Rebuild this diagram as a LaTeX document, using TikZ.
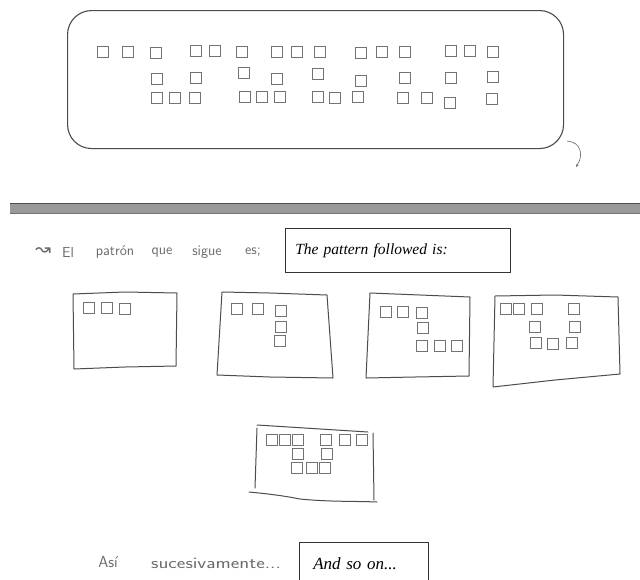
\documentclass[tikz,border=0pt]{standalone}
\usepackage{fontspec}
\usetikzlibrary{arrows.meta}
\setmainfont{Liberation Serif}
\newfontfamily\symfont{DejaVu Sans}
\begin{document}
\begin{tikzpicture}[x=1pt,y=-1pt,
  sq/.style={draw=black!55, line width=0.75pt},
  frame/.style={draw=black!70, line width=1pt, line cap=round, line join=round},
  hand/.style={text=black!58, inner sep=0pt, font=\sffamily\fontsize{14.5}{17}\selectfont},
  lbl/.style={draw=black!80, line width=0.6pt, align=left, inner ysep=0pt,
     font=\itshape\fontsize{15.5}{18}\selectfont}]
\clip (0,0) rectangle (640,579);
\fill[white] (0,0) rectangle (640,579);

% top rounded frame
\node[draw=black!70, line width=1.1pt, rounded corners=24pt, minimum width=496pt,
  minimum height=138pt, inner sep=0pt, anchor=north west] (topbox) at (67,10) {};
\foreach \x/\y in {103/52,128/52,156/53, 196/51,215/51,242/52, 277/52,297/52,320/52,
  361/53,382/52,405/52, 451/51,470/51,493/52,
  157/79,196/78,244/73,277/79,318/74,361/81,405/78,451/78,493/77,
  157/98,175/98,195/98, 245/97,262/97,280/97, 318/97,335/98,358/97,
  403/98,427/98,450/103, 492/99}
  \draw[sq] (\x-5.5,\y-5.5) rectangle (\x+5.5,\y+5.5);
\coordinate (a1) at (567,141);
\coordinate (a2) at (576,167);
\draw[black!60, line width=0.6pt, -{Stealth[length=3pt]}] (a1) .. controls (581,142) and (584,155) .. (a2);

% gray bar
\fill[black!40] (10,203) rectangle (640,213);
\draw[black!70, line width=0.8pt] (10,203) -- (640,203);
\draw[black!55, line width=0.6pt] (10,213) -- (640,213);

% heading
\node[hand, font=\symfont\fontsize{19}{21}\selectfont] (w0) at (43,252) {↝};
\node[hand] (w1) at (68,252) {El};
\node[hand] (w2) at (115,252) {patrón};
\node[hand] (w3) at (162,253) {que};
\node[hand] (w4) at (207,252) {sigue};
\node[hand] (w5) at (253,252) {es;};
\node[lbl, text width=205pt, inner xsep=10pt, minimum height=44pt, anchor=north west] (l1) at (285,228) {The pattern followed is:};

% step A
\draw[frame] (73,294) -- (125,292) -- (177,293) -- (176,366) -- (125,367) -- (74,369) -- cycle;
\foreach \x/\y in {89/308,107/308,125/309}
  \draw[sq] (\x-5.5,\y-5.5) rectangle (\x+5.5,\y+5.5);
% step B
\draw[frame] (222,292) -- (270,293) -- (327,295) -- (333,378) -- (270,377) -- (217,375) -- cycle;
\foreach \x/\y in {237/309,258/309,281/311,281/327,280/341}
  \draw[sq] (\x-5.5,\y-5.5) rectangle (\x+5.5,\y+5.5);
% step C
\draw[frame] (370,293) -- (420,295) -- (470,297) -- (469,376) -- (415,377) -- (366,378) -- cycle;
\foreach \x/\y in {386/312,403/312,422/313,423/328,422/346,440/346,457/346}
  \draw[sq] (\x-5.5,\y-5.5) rectangle (\x+5.5,\y+5.5);
% step D
\draw[frame] (495,296) -- (555,295) -- (618,297) -- (620,374) -- (555,380) -- (493,387) -- cycle;
\foreach \x/\y in {506/309,519/309,537/309,574/309,535/327,575/327,536/343,553/344,572/343}
  \draw[sq] (\x-5.5,\y-5.5) rectangle (\x+5.5,\y+5.5);
% step E
\draw[frame] (257,425) -- (368,432);
\draw[frame] (257,428) -- (255,488);
\draw[frame] (249,492) .. controls (270,494) and (285,496) .. (300,499) .. controls (330,502) and (355,501) .. (377,502);
\draw[frame] (373,433) -- (374,500);
\foreach \x/\y in {272/440,285/440,298/440,326/440,345/440,362/440,298/454,327/454,297/468,312/468,325/468}
  \draw[sq] (\x-5.5,\y-5.5) rectangle (\x+5.5,\y+5.5);

% footer
\node[hand, font=\sffamily\fontsize{16}{18}\selectfont] (f1) at (108,562) {Así};
\node[hand, font=\sffamily\fontsize{16}{18}\selectfont] (f2) at (216,563) {\scalebox{1.28}[1]{sucesivamente...}};
\node[lbl, text width=101pt, inner xsep=14pt, minimum height=42pt, anchor=north west,
  font=\itshape\fontsize{17}{20}\selectfont] (l2) at (299,542) {And so on...};
\end{tikzpicture}
\end{document}
